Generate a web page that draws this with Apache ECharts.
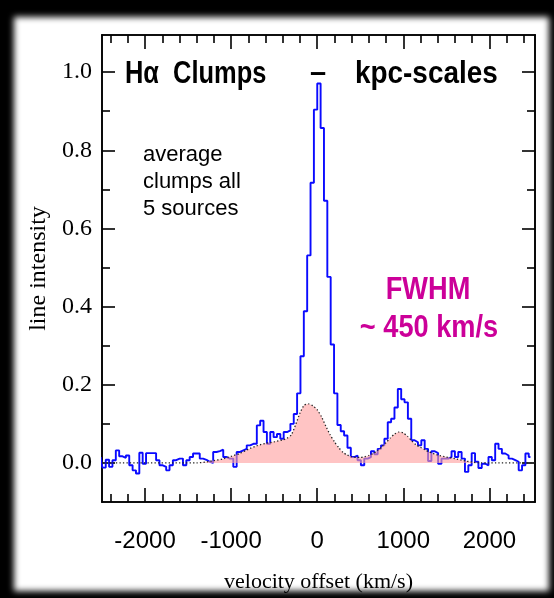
<!DOCTYPE html>
<html>
<head>
<meta charset="utf-8">
<script src="https://cdn.jsdelivr.net/npm/echarts@6/dist/echarts.min.js"></script>
<style>
  html, body { margin: 0; padding: 0; background: #000; overflow: hidden; }
  #sheet { position: absolute; left: 14px; top: 17px; width: 535px; height: 574px;
           background: #fff; filter: blur(3px); }
  #chart { position: absolute; left: 0; top: 0; width: 554px; height: 598px; }
</style>
</head>
<body>
<div id="sheet"></div>
<div id="chart"></div>
<script>
// Spectrum channel centres (km/s) and averaged H-alpha line intensity
const velocity = [
  -2515, -2476, -2437, -2398, -2359, -2320, -2281, -2242, -2203, -2164,
  -2125, -2086, -2047, -2008, -1969, -1930, -1891, -1852, -1813, -1774,
  -1735, -1696, -1657, -1618, -1579, -1540, -1501, -1462, -1423, -1384,
  -1345, -1306, -1267, -1228, -1189, -1150, -1111, -1072, -1033, -994,
  -955, -916, -877, -838, -799, -760, -721, -682, -643, -604,
  -565, -526, -487, -448, -409, -370, -331, -292, -253, -214,
  -175, -136, -97, -58, -19, 20, 59, 98, 137, 176,
  215, 254, 293, 332, 371, 410, 449, 488, 527, 566,
  605, 644, 683, 722, 761, 800, 839, 878, 917, 956,
  995, 1034, 1073, 1112, 1151, 1190, 1229, 1268, 1307, 1346,
  1385, 1424, 1463, 1502, 1541, 1580, 1619, 1658, 1697, 1736,
  1775, 1814, 1853, 1892, 1931, 1970, 2009, 2048, 2087, 2126,
  2165, 2204, 2243, 2282, 2321, 2360, 2399, 2438, 2477
];
const intensity = [
  0.015, -0.012, 0.008, -0.010, 0.007, 0.032, 0.017, 0.013, 0.019, -0.006,
  -0.019, -0.027, 0.026, -0.002, 0.025, 0.025, 0.025, 0.007, -0.006, -0.010,
  -0.019, -0.006, 0.007, 0.011, 0.011, -0.006, 0.007, 0.015, 0.024, 0.024,
  0.011, 0.008, 0.003, 0.000, 0.028, 0.030, 0.034, 0.015, 0.011, 0.011,
  -0.010, 0.028, 0.032, 0.036, 0.045, 0.049, 0.049, 0.096, 0.108, 0.079,
  0.049, 0.079, 0.066, 0.074, 0.062, 0.079, 0.083, 0.100, 0.125, 0.178,
  0.273, 0.388, 0.531, 0.717, 0.904, 0.971, 0.857, 0.671, 0.476, 0.303,
  0.178, 0.097, 0.081, 0.070, 0.039, 0.015, 0.019, 0.007, -0.006, 0.011,
  0.015, 0.030, 0.022, 0.036, 0.045, 0.062, 0.104, 0.113, 0.142, 0.189,
  0.163, 0.155, 0.113, 0.058, 0.053, 0.045, 0.058, 0.036, 0.005, 0.030,
  0.025, -0.002, 0.011, 0.011, 0.015, 0.030, 0.015, 0.028, 0.011, -0.023,
  -0.006, 0.025, 0.003, -0.013, -0.002, -0.006, 0.015, 0.007, 0.049, 0.036,
  0.024, 0.019, 0.011, 0.007, 0.003, -0.019, -0.006, 0.024, 0.015
];

// Broad-component model profile (dotted curve, shaded)
const modelVelocity = [
  -2500, -1400, -1300, -1200, -1100, -1000, -900, -800, -700, -600,
  -500, -400, -350, -300, -250, -200, -150, -100, -50, 0,
  50, 100, 150, 200, 250, 300, 350, 400, 450, 500,
  550, 600, 650, 700, 750, 800, 850, 900, 950, 1000,
  1050, 1100, 1150, 1200, 1250, 1300, 1400, 1500, 1600, 1700,
  1800, 1900, 2530
];
const modelIntensity = [
  0, 0, 0.002, 0.006, 0.010, 0.017, 0.024, 0.035, 0.044, 0.050,
  0.054, 0.059, 0.063, 0.072, 0.098, 0.128, 0.148, 0.151, 0.146, 0.136,
  0.118, 0.094, 0.072, 0.054, 0.039, 0.027, 0.020, 0.016, 0.014, 0.014,
  0.016, 0.019, 0.024, 0.031, 0.041, 0.052, 0.064, 0.074, 0.079, 0.077,
  0.068, 0.056, 0.046, 0.040, 0.034, 0.028, 0.020, 0.015, 0.011, 0.006,
  0.002, 0, 0
];

// Axis ticks and labels
const xMajorTicks = [-2000, -1000, 0, 1000, 2000];
const xMinorTicks = [-2400, -2200, -1800, -1600, -1400, -1200, -800, -600, -400, -200,
                     200, 400, 600, 800, 1200, 1400, 1600, 1800, 2200, 2400];
const yMajorTicks = [0, 0.2, 0.4, 0.6, 0.8, 1.0];
const yMinorTicks = [0.1, 0.3, 0.5, 0.7, 0.9];

const X_MIN = -2500, X_MAX = 2530, Y_MIN = -0.1, Y_MAX = 1.095;

const chart = echarts.init(document.getElementById('chart'), null, { renderer: 'canvas' });

function xAxisDef(position, ticks, len, withLabels, extra) {
  return Object.assign({
    type: 'value', position: position, min: X_MIN, max: X_MAX,
    axisLine: { show: true, onZero: false, lineStyle: { color: '#000', width: 1.6 } },
    axisTick: { show: true, inside: true, length: len, customValues: ticks,
                lineStyle: { color: '#000', width: 1.6 } },
    axisLabel: withLabels ? {
      show: true, customValues: ticks, margin: 27, color: '#000',
      fontFamily: 'Liberation Sans', fontSize: 24,
      formatter: v => String(v)
    } : { show: false },
    splitLine: { show: false }
  }, extra || {});
}
function yAxisDef(position, ticks, len, withLabels, extra) {
  return Object.assign({
    type: 'value', position: position, min: Y_MIN, max: Y_MAX,
    axisLine: { show: true, onZero: false, lineStyle: { color: '#000', width: 1.6 } },
    axisTick: { show: true, inside: true, length: len, customValues: ticks,
                lineStyle: { color: '#000', width: 1.6 } },
    axisLabel: withLabels ? {
      show: true, customValues: ticks, margin: 10, color: '#000',
      fontFamily: 'Liberation Serif', fontSize: 24,
      formatter: v => v.toFixed(1)
    } : { show: false },
    splitLine: { show: false }
  }, extra || {});
}

const option = {
  backgroundColor: 'transparent',
  animation: false,
  grid: { left: 102, top: 35, width: 433, height: 470, containLabel: false },
  xAxis: [
    xAxisDef('bottom', xMajorTicks, 14, true, {
      name: 'velocity offset (km/s)', nameLocation: 'middle', nameGap: 69,
      nameTextStyle: { fontFamily: 'Liberation Serif', fontSize: 22, color: '#000' }
    }),
    xAxisDef('bottom', xMinorTicks, 8, false),
    xAxisDef('top', xMajorTicks, 14, false),
    xAxisDef('top', xMinorTicks, 8, false)
  ],
  yAxis: [
    yAxisDef('left', yMajorTicks, 13, true, {
      name: 'line intensity', nameLocation: 'middle', nameGap: 47,
      nameTextStyle: { fontFamily: 'Liberation Serif', fontSize: 24, color: '#000' }
    }),
    yAxisDef('left', yMinorTicks, 8, false),
    yAxisDef('right', yMajorTicks, 13, false),
    yAxisDef('right', yMinorTicks, 8, false)
  ],
  series: [
    {
      name: 'spectrum', type: 'line', step: 'middle', symbol: 'none',
      xAxisIndex: 0, yAxisIndex: 0, clip: true,
      data: velocity.map((v, i) => [v, intensity[i]]),
      lineStyle: { color: '#0a0aff', width: 1.9 },
      z: 3
    },
    {
      name: 'model', type: 'line', symbol: 'none', smooth: 0.2,
      xAxisIndex: 0, yAxisIndex: 0, clip: true,
      data: modelVelocity.map((v, i) => [v, modelIntensity[i]]),
      lineStyle: { color: '#222', width: 1.3, type: [1.3, 2.2] },
      areaStyle: { color: 'rgba(255, 160, 160, 0.62)', opacity: 1, origin: 0 },
      z: 4
    }
  ],
  graphic: [
    { type: 'text', x: 125, y: 74, z: 10, scaleX: 0.82,
      style: { text: 'H\u03b1  Clumps', fill: '#000', font: 'bold 31px "Liberation Sans"', textVerticalAlign: 'middle' } },
    { type: 'text', x: 310, y: 74, z: 10,
      style: { text: '\u2013', fill: '#000', font: 'bold 29px "Liberation Sans"', textVerticalAlign: 'middle' } },
    { type: 'text', x: 355, y: 74, z: 10, scaleX: 0.9,
      style: { text: 'kpc-scales', fill: '#000', font: 'bold 31px "Liberation Sans"', textVerticalAlign: 'middle' } },
    { type: 'text', x: 143, y: 155, z: 10,
      style: { text: 'average', fill: '#000', font: '22px "Liberation Sans"', textVerticalAlign: 'middle' } },
    { type: 'text', x: 143, y: 182, z: 10,
      style: { text: 'clumps all', fill: '#000', font: '22px "Liberation Sans"', textVerticalAlign: 'middle' } },
    { type: 'text', x: 143, y: 209, z: 10,
      style: { text: '5 sources', fill: '#000', font: '22px "Liberation Sans"', textVerticalAlign: 'middle' } },
    { type: 'text', x: 428, y: 290, z: 10, scaleX: 0.85,
      style: { text: 'FWHM', fill: '#cc0099', font: 'bold 32px "Liberation Sans"', textAlign: 'center', textVerticalAlign: 'middle' } },
    { type: 'text', x: 429, y: 328, z: 10, scaleX: 0.85,
      style: { text: '~ 450 km/s', fill: '#cc0099', font: 'bold 32px "Liberation Sans"', textAlign: 'center', textVerticalAlign: 'middle' } }
  ]
};
chart.setOption(option);
</script>
</body>
</html>
